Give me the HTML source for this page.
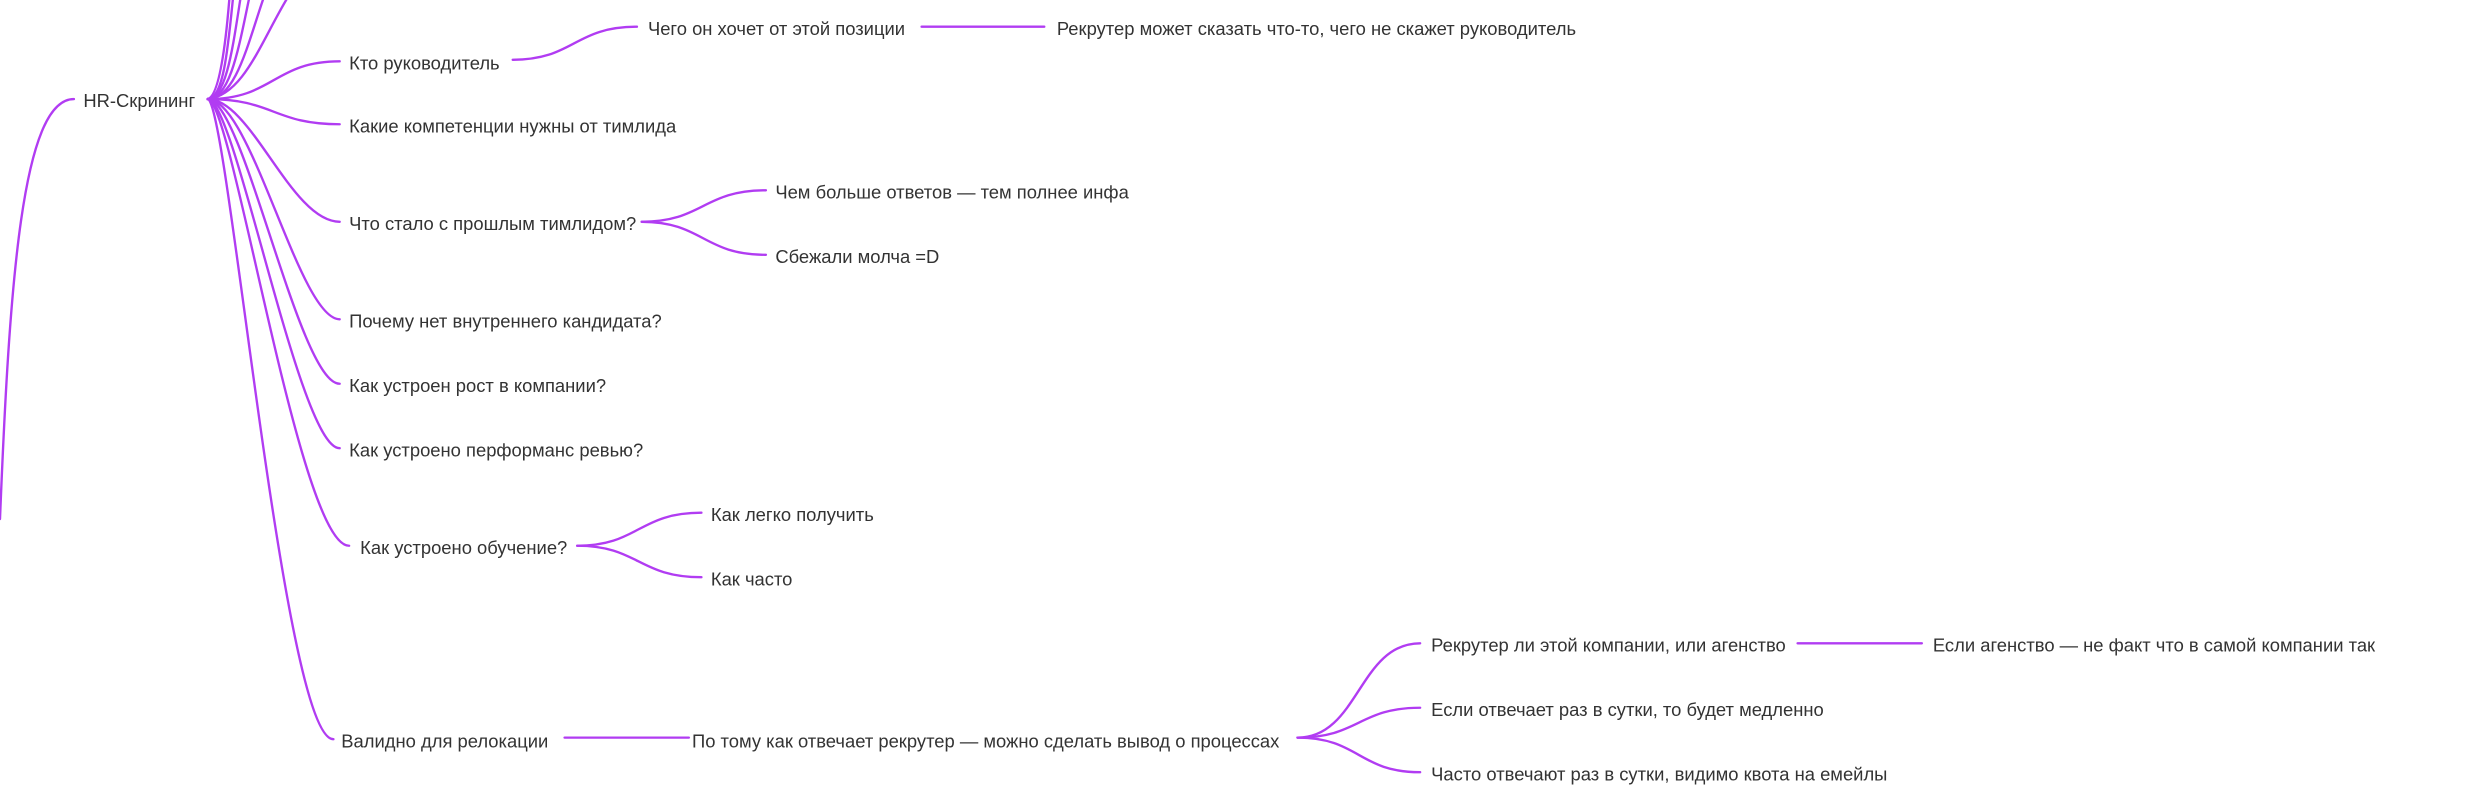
<!DOCTYPE html>
<html><head><meta charset="utf-8"><style>
html,body{margin:0;padding:0;background:#fff;width:2466px;height:804px;overflow:hidden}
svg{display:block}
text{font-family:"Liberation Sans","Noto Sans CJK SC",sans-serif;font-size:11.7px;fill:#333;dominant-baseline:central}
path{fill:none;stroke:#b13cf2;stroke-width:1.5;stroke-linecap:round}
</style></head><body>
<svg width="2466" height="804" viewBox="0 0 1568 511.2" preserveAspectRatio="none">
<g>
<path d="M0 330 C6 180 14 63 47 63"/>
<path d="M132 63 C150 63 145 -40 160 -60"/>
<path d="M132 63 C152 63 150 -30 168 -60"/>
<path d="M132 63 C155 63 155 -20 176 -60"/>
<path d="M132 63 C158 63 162 -10 186 -40"/>
<path d="M132 63 C160 60 170 10 196 -20"/>
<path d="M132 63 C145 60 148 -40 150 -60"/>
<path d="M132 63 C174 63 174 39 216 39"/>
<path d="M132 63 C174 63 174 79 216 79"/>
<path d="M132 63 C160 63 185 141 216 141"/>
<path d="M132 63 C160 63 190 203 216 203"/>
<path d="M132 63 C155 63 190 244 216 244"/>
<path d="M132 63 C150 63 190 285 216 285"/>
<path d="M132 63 C148 63 190 347 222 347"/>
<path d="M132 63 C145 63 180 470 212 470"/>
<path d="M326 38 C365 38 365 17 405 17"/>
<path d="M586 17 L664 17"/>
<path d="M408 141 C447 141 447 121 487 121"/>
<path d="M408 141 C447 141 447 162 487 162"/>
<path d="M367 347 C406 347 406 326 446 326"/>
<path d="M367 347 C406 347 406 367 446 367"/>
<path d="M359 469 L438 469"/>
<path d="M825 469 C864 469 864 409 903 409"/>
<path d="M825 469 C864 469 864 450 903 450"/>
<path d="M825 469 C864 469 864 491 903 491"/>
<path d="M1143 409 L1222 409"/>
</g>
<g>
<text x="53" y="64">HR-Скрининг</text>
<text x="222" y="40">Кто руководитель</text>
<text x="412" y="18">Чего он хочет от этой позиции</text>
<text x="672" y="18">Рекрутер может сказать что-то, чего не скажет руководитель</text>
<text x="222" y="80">Какие компетенции нужны от тимлида</text>
<text x="222" y="142">Что стало с прошлым тимлидом?</text>
<text x="493" y="122">Чем больше ответов — тем полнее инфа</text>
<text x="493" y="163">Сбежали молча =D</text>
<text x="222" y="204">Почему нет внутреннего кандидата?</text>
<text x="222" y="245">Как устроен рост в компании?</text>
<text x="222" y="286">Как устроено перформанс ревью?</text>
<text x="229" y="348">Как устроено обучение?</text>
<text x="452" y="327">Как легко получить</text>
<text x="452" y="368">Как часто</text>
<text x="217" y="471">Валидно для релокации</text>
<text x="440" y="471">По тому как отвечает рекрутер — можно сделать вывод о процессах</text>
<text x="910" y="410">Рекрутер ли этой компании, или агенство</text>
<text x="1229" y="410">Если агенство — не факт что в самой компании так</text>
<text x="910" y="451">Если отвечает раз в сутки, то будет медленно</text>
<text x="910" y="492">Часто отвечают раз в сутки, видимо квота на емейлы</text>
</g>
</svg>
</body></html>
